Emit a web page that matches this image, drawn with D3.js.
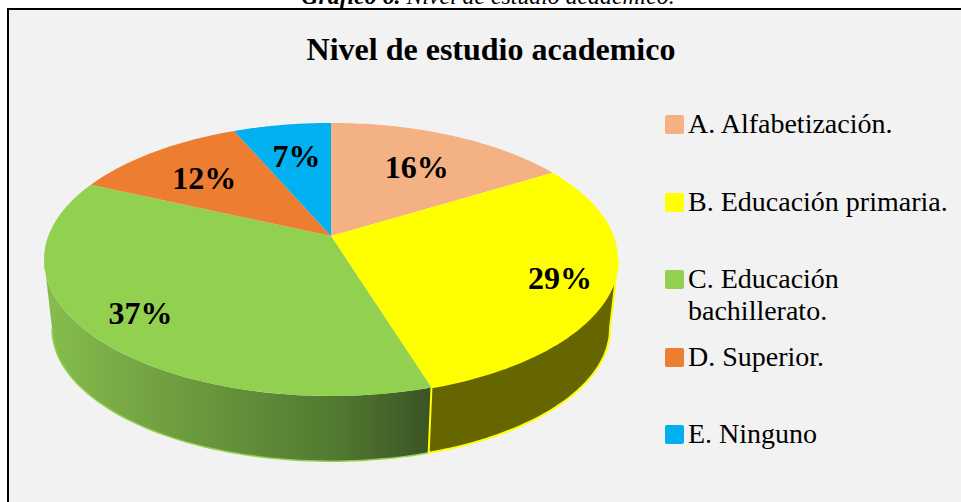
<!DOCTYPE html>
<html><head><meta charset="utf-8">
<style>html,body{margin:0;padding:0;background:#fff;overflow:hidden}svg{display:block}text{font-family:"Liberation Serif",serif;fill:#000}</style>
<script src="https://cdn.jsdelivr.net/npm/d3@7"></script></head><body><script>
const categories=["A. Alfabetización.","B. Educación primaria.","C. Educación","D. Superior.","E. Ninguno"];
const categoryContinuation=[null,null,"bachillerato.",null,null];
const shares=[16.3,28.9,36.6,11.7,6.5];
const colors=["#F4B183","#FFFF00","#92D050","#ED7D31","#00B0F0"];
const labelRadius=[.66,.825,.81,.672,.68];
const labelTurnDegrees=[1,.7,.5,-1.6,.2];
const legendRows=[133,211,288,366,443];

const W=961,H=502;
const svg=d3.select("body").append("svg").attr("width",W).attr("height",H);
const defs=svg.append("defs");
const grad=defs.append("linearGradient").attr("id","wallC").attr("gradientUnits","userSpaceOnUse").attr("x1",44).attr("x2",430).attr("y1",0).attr("y2",0);
grad.append("stop").attr("offset",0).attr("stop-color","#86BE4D");
grad.append("stop").attr("offset",.35).attr("stop-color","#6F9C3F");
grad.append("stop").attr("offset",.75).attr("stop-color","#527A31");
grad.append("stop").attr("offset",1).attr("stop-color","#3C5424");

svg.append("rect").attr("x",8).attr("y",9).attr("width",W+10).attr("height",H+10).attr("fill","#F2F2F2").attr("stroke","#000").attr("stroke-width",2);
const cap=svg.append("text").attr("x",488).attr("y",4).attr("text-anchor","middle").attr("font-size",23.8).attr("font-style","italic");
cap.append("tspan").attr("font-weight","bold").text("Gráfico 6. ");
cap.append("tspan").text("Nivel de estudio academico.");
svg.append("text").attr("x",491).attr("y",60).attr("text-anchor","middle").attr("font-size",32).attr("font-weight","bold").text("Nivel de estudio academico");

// perspective projection of a flat disc; z=0 top face, z=1 bottom face
const k=-0.172;
function project(angle,r,z){
  const s=z?0.972:1, y0=z?305.7:236, X=r*Math.sin(angle), Y=-r*Math.cos(angle), d=1+k*Y;
  return [331+282.7*s*X/d, y0+132.5*s*Y/d];
}
const arcs=d3.pie().sort(null).value(d=>d)(shares);
const line=d3.line();
const samples=(a,b,r,z)=>d3.range(0,61).map(i=>project(a+(b-a)*i/60,r,z));
const wall=(a,b)=>line(samples(a,b,1,0).concat(samples(a,b,1,1).reverse()))+"Z";
// the wall only runs between the two silhouette angles of the top face
const sweep=d3.range(0,721).map(i=>i/720*2*Math.PI);
const rightAngle=d3.greatest(sweep,a=>project(a,1,0)[0]);
const leftAngle=d3.least(sweep,a=>project(a,1,0)[0]);
const wallLayer=svg.append("g");
wallLayer.append("path").attr("d",wall(arcs[2].startAngle,leftAngle)).attr("fill","url(#wallC)");
wallLayer.append("path").attr("d",line(samples(arcs[2].startAngle,leftAngle,1,1))).attr("fill","none").attr("stroke","#92D050").attr("stroke-width",1.5);
wallLayer.append("path").attr("d",wall(rightAngle,arcs[1].endAngle)).attr("fill","#666600").attr("stroke","#FFFF00").attr("stroke-width",2);
svg.append("g").selectAll("path").data(arcs).join("path")
  .attr("d",d=>line([project(0,0,0)].concat(samples(d.startAngle,d.endAngle,1,0)))+"Z")
  .attr("fill",(d,i)=>colors[i]);
svg.append("g").selectAll("text").data(arcs).join("text")
  .attr("transform",(d,i)=>`translate(${project((d.startAngle+d.endAngle)/2+labelTurnDegrees[i]*Math.PI/180,labelRadius[i],0)})`)
  .attr("text-anchor","middle").attr("dy","0.33em").attr("font-size",32).attr("font-weight","bold")
  .text(d=>Math.round(d.value)+"%");

const leg=svg.append("g").selectAll("g").data(categories).join("g").attr("transform",(d,i)=>`translate(665,${legendRows[i]})`);
leg.append("rect").attr("y",-18).attr("width",19).attr("height",19).attr("rx",2).attr("fill",(d,i)=>colors[i]);
leg.append("text").attr("x",23).attr("font-size",28).text(d=>d);
leg.append("text").attr("x",23).attr("y",32).attr("font-size",28).text((d,i)=>categoryContinuation[i]);
</script></body></html>
